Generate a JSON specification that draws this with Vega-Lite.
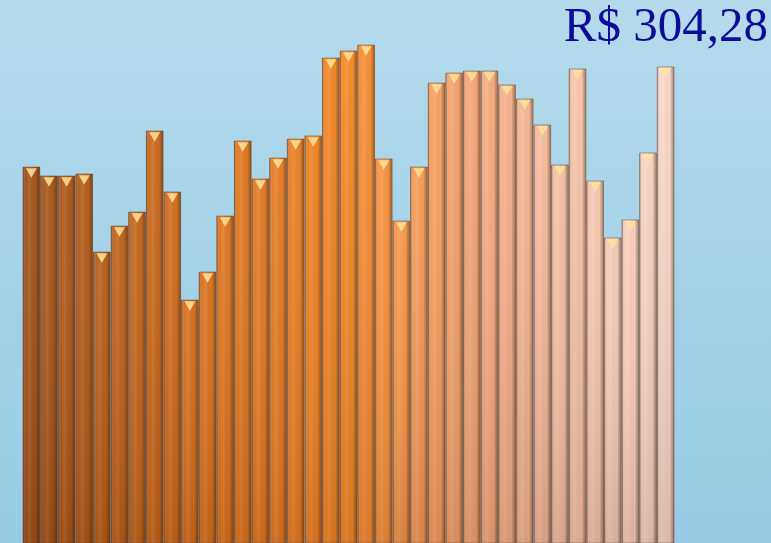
{
  "$schema": "https://vega.github.io/schema/vega-lite/v6.json",
  "width": 771,
  "height": 543,
  "padding": 0,
  "autosize": {"type": "none"},
  "background": "#a6d3e8",
  "config": {"view": {"stroke": null}},
  "title": {
    "text": "R$ 304,28",
    "orient": "top",
    "anchor": "end",
    "frame": "group",
    "offset": 0,
    "dy": 90,
    "dx": -3,
    "baseline": "alphabetic",
    "font": "Liberation Serif",
    "fontSize": 49,
    "fontWeight": "normal",
    "color": "#0c0c98"
  },
  "data": {
    "values": [
      {"i": 1, "v": 240.3}, {"i": 2, "v": 234.6}, {"i": 3, "v": 234.6}, {"i": 4, "v": 235.9},
      {"i": 5, "v": 186.0}, {"i": 6, "v": 202.6}, {"i": 7, "v": 211.6}, {"i": 8, "v": 263.4},
      {"i": 9, "v": 224.4}, {"i": 10, "v": 155.3}, {"i": 11, "v": 173.2}, {"i": 12, "v": 209.0},
      {"i": 13, "v": 257.0}, {"i": 14, "v": 232.7}, {"i": 15, "v": 246.1}, {"i": 16, "v": 258.2},
      {"i": 17, "v": 260.2}, {"i": 18, "v": 310.0}, {"i": 19, "v": 314.5}, {"i": 20, "v": 318.3},
      {"i": 21, "v": 245.5}, {"i": 22, "v": 205.8}, {"i": 23, "v": 240.3}, {"i": 24, "v": 294.0},
      {"i": 25, "v": 300.4}, {"i": 26, "v": 301.7}, {"i": 27, "v": 301.7}, {"i": 28, "v": 292.8},
      {"i": 29, "v": 283.8}, {"i": 30, "v": 267.2}, {"i": 31, "v": 241.6}, {"i": 32, "v": 303.0},
      {"i": 33, "v": 231.4}, {"i": 34, "v": 195.0}, {"i": 35, "v": 206.5}, {"i": 36, "v": 249.3},
      {"i": 37, "v": 304.28}
    ]
  },
  "layer": [
    {
      "data": {"values": [{"k": 1}]},
      "mark": {
        "type": "rect",
        "color": {
          "gradient": "linear", "x1": 0, "y1": 0, "x2": 0, "y2": 1,
          "stops": [
            {"offset": 0, "color": "#b4dbec"},
            {"offset": 1, "color": "#96cbe3"}
          ]
        }
      },
      "encoding": {}
    },
    {
      "mark": {"type": "bar", "stroke": "#5a3a2a", "strokeOpacity": 0.45, "strokeWidth": 1},
      "encoding": {
        "x": {"field": "i", "type": "ordinal", "axis": null,
              "scale": {"range": [23, 674], "paddingInner": 0.05, "paddingOuter": 0}},
        "y": {"field": "v", "type": "quantitative", "axis": null,
              "scale": {"domain": [0, 347.1], "nice": false}},
        "color": {"field": "i", "type": "quantitative", "legend": null,
                  "scale": {"domain": [1, 10, 19, 22, 26, 31, 37],
                            "range": ["#9e4c10", "#d46a14", "#f7841e", "#f79444", "#f5a472", "#f6bea0", "#f8d6c6"]}}
      }
    },
    {
      "mark": {
        "type": "bar",
        "color": {
          "gradient": "linear", "x1": 0, "y1": 0, "x2": 1, "y2": 0,
          "stops": [
            {"offset": 0, "color": "rgba(60,25,5,0.45)"},
            {"offset": 0.15, "color": "rgba(255,255,255,0.0)"},
            {"offset": 0.4, "color": "rgba(255,255,255,0.1)"},
            {"offset": 0.75, "color": "rgba(0,0,0,0)"},
            {"offset": 1, "color": "rgba(60,25,5,0.45)"}
          ]
        }
      },
      "encoding": {
        "x": {"field": "i", "type": "ordinal"},
        "y": {"field": "v", "type": "quantitative"}
      }
    },
    {
      "mark": {
        "type": "bar",
        "color": {
          "gradient": "linear", "x1": 0, "y1": 0, "x2": 0, "y2": 1,
          "stops": [
            {"offset": 0, "color": "rgba(255,255,255,0.06)"},
            {"offset": 1, "color": "rgba(70,40,30,0.15)"}
          ]
        }
      },
      "encoding": {
        "x": {"field": "i", "type": "ordinal"},
        "y": {"field": "v", "type": "quantitative"}
      }
    },
    {
      "mark": {"type": "point", "shape": "triangle-down", "filled": true, "size": 120,
               "color": "#ffe49a", "opacity": 0.85, "yOffset": 6},
      "encoding": {
        "x": {"field": "i", "type": "ordinal"},
        "y": {"field": "v", "type": "quantitative"}
      }
    }
  ]
}
